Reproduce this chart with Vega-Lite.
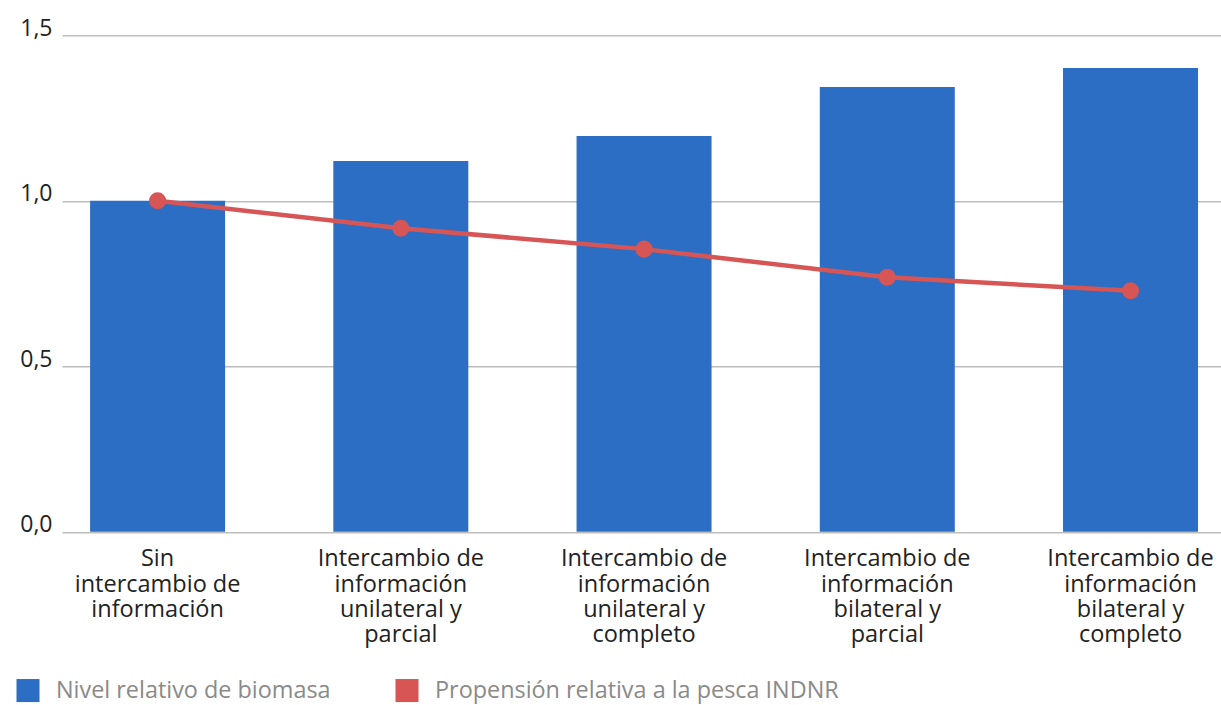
{
  "$schema": "https://vega.github.io/schema/vega-lite/v6.json",
  "width": 1159,
  "height": 496.5,
  "autosize": {"type": "none"},
  "padding": {"left": 62, "top": 35.3, "right": 0, "bottom": 173.2},
  "background": "white",
  "config": {
    "view": {"stroke": null},
    "font": "Open Sans"
  },
  "data": {
    "values": [
      {"cat": "Sin|intercambio de|información", "biomasa": 1.0, "indnr": 1.0},
      {"cat": "Intercambio de|información|unilateral y|parcial", "biomasa": 1.12, "indnr": 0.917},
      {"cat": "Intercambio de|información|unilateral y|completo", "biomasa": 1.196, "indnr": 0.854},
      {"cat": "Intercambio de|información|bilateral y|parcial", "biomasa": 1.344, "indnr": 0.769},
      {"cat": "Intercambio de|información|bilateral y|completo", "biomasa": 1.401, "indnr": 0.728}
    ]
  },
  "encoding": {
    "x": {
      "field": "cat",
      "type": "nominal",
      "sort": null,
      "scale": {"paddingInner": 0.445, "paddingOuter": 0.105, "align": 0.55},
      "axis": {
        "title": null,
        "labelExpr": "split(datum.label, '|')",
        "labelAngle": 0,
        "labelFontSize": 23.5,
        "labelLineHeight": 25.3,
        "labelColor": "#222222",
        "labelPadding": 15,
        "labelBaseline": "top",
        "ticks": false,
        "domain": false,
        "grid": false,
        "labelLimit": 300
      }
    }
  },
  "layer": [
    {
      "mark": {"type": "bar"},
      "encoding": {
        "y": {
          "field": "biomasa",
          "type": "quantitative",
          "scale": {"domain": [0, 1.5], "nice": false},
          "axis": {
            "title": null,
            "values": [0, 0.5, 1, 1.5],
            "labelExpr": "replace(format(datum.value, '.1f'), '.', ',')",
            "labelFontSize": 23,
            "labelColor": "#222222",
            "labelPadding": 10,
            "labelBaseline": "alphabetic",
            "ticks": false,
            "domain": false,
            "grid": true,
            "gridColor": "#bdbdbd",
            "gridWidth": 1.5
          }
        },
        "color": {
          "datum": "Nivel relativo de biomasa",
          "type": "nominal",
          "scale": {
            "domain": ["Nivel relativo de biomasa", "Propensión relativa a la pesca INDNR"],
            "range": ["#2b6ec3", "#d75555"]
          },
          "legend": {
            "title": null,
            "orient": "none",
            "direction": "horizontal",
            "legendX": -46,
            "legendY": 643,
            "symbolType": "square",
            "symbolSize": 530,
            "symbolStrokeWidth": 0,
            "labelFontSize": 23.4,
            "labelColor": "#8a8a8a",
            "labelOffset": 16,
            "columnPadding": 64,
            "labelLimit": 600
          }
        }
      }
    },
    {
      "mark": {"type": "line", "strokeWidth": 4.5, "point": {"filled": true, "size": 290, "opacity": 1}},
      "encoding": {
        "y": {
          "field": "indnr",
          "type": "quantitative",
          "axis": {
            "title": null,
            "values": [0, 0.5, 1, 1.5],
            "labelExpr": "replace(format(datum.value, '.1f'), '.', ',')",
            "labelFontSize": 23,
            "labelColor": "#222222",
            "labelPadding": 10,
            "labelBaseline": "alphabetic",
            "ticks": false,
            "domain": false,
            "grid": true,
            "gridColor": "#bdbdbd",
            "gridWidth": 1.5
          }
        },
        "color": {"datum": "Propensión relativa a la pesca INDNR", "type": "nominal"}
      }
    }
  ]
}
